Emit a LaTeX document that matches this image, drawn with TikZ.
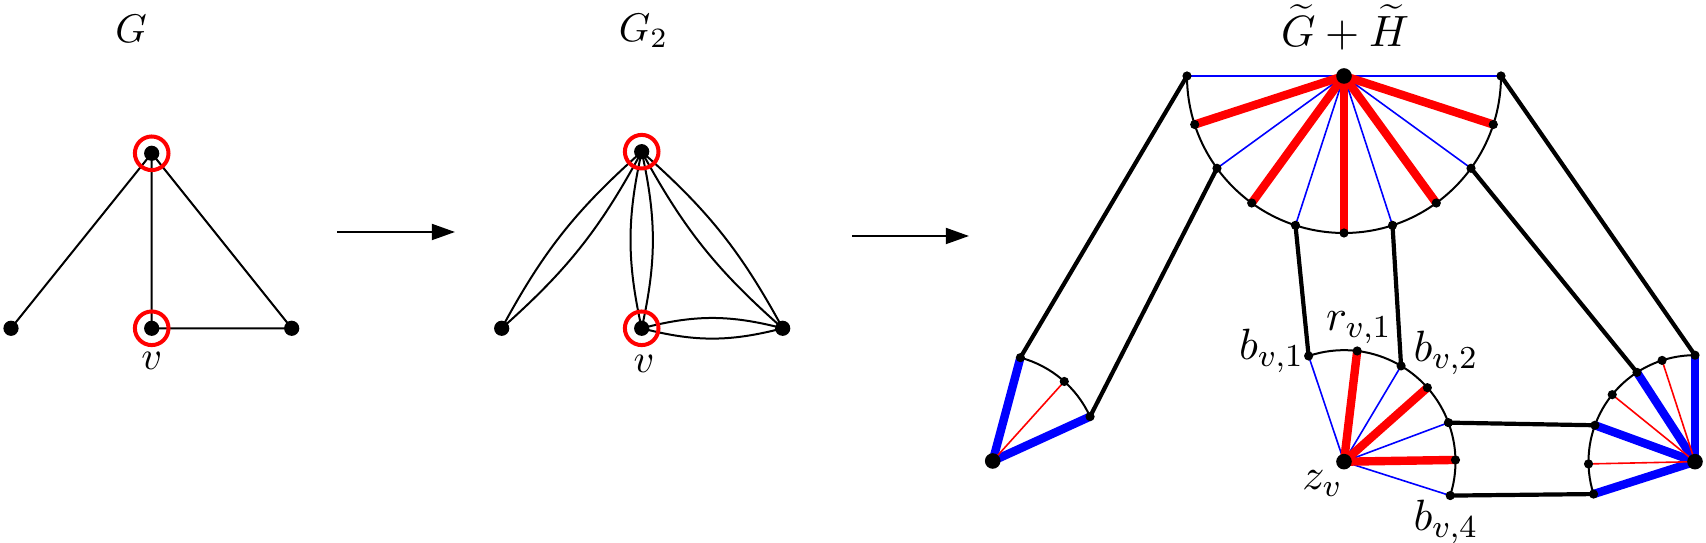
\documentclass[tikz,border=0pt]{standalone}
\usetikzlibrary{arrows.meta,calc}
\begin{document}
\begin{tikzpicture}[x=0.25pt,y=-0.25pt,
  gdot/.style={circle,fill=black,inner sep=0pt,minimum size=3.8pt},
  sdot/.style={circle,fill=black,inner sep=0pt,minimum size=2.3pt},
  hubdot/.style={circle,fill=black,inner sep=0pt,minimum size=3.9pt},
  ring/.style={circle,draw=red,line width=1pt,inner sep=0pt,minimum size=8.4pt},
  gedge/.style={line width=0.5pt},
  conn/.style={line width=1.05pt},
  arcl/.style={line width=0.5pt},
  thinb/.style={blue,line width=0.4pt},
  thinr/.style={red,line width=0.4pt},
  thickr/.style={red,line width=2.1pt},
  thickb/.style={blue,line width=2.1pt},
  lab/.style={anchor=base,inner sep=0pt},
  slab/.style={anchor=base,inner sep=0pt,font=\fontsize{11}{13}\selectfont},
  arr/.style={line width=0.5pt,-{Triangle[length=5.8pt,width=4pt]}}
]
\useasboundingbox (0,0) rectangle (1706,543);

% ---------- G ----------
\coordinate (T) at (151.7,153.3);
\coordinate (V) at (151.7,328.3);
\coordinate (L) at (11,328.3);
\coordinate (R) at (291.7,328.3);
\draw[gedge] (L) -- (T) (T) -- (V) (T) -- (R) (V) -- (R);
\foreach \n in {L,T,V,R} \node[gdot] (d\n) at (\n) {};
\node[ring] (rT) at (T) {};
\node[ring] (rV) at (V) {};
\node[lab] (labG) at (131,43) {$G$};
\node[lab] (labv) at (151.7,370) {$v$};

% ---------- arrows ----------
\coordinate (a1s) at (337,232);
\coordinate (a1e) at (455,232);
\coordinate (a2s) at (852,236);
\coordinate (a2e) at (969,236);
\draw[arr] (a1s) -- (a1e);
\draw[arr] (a2s) -- (a2e);

% ---------- G_2 ----------
\coordinate (T2) at (641.7,151.7);
\coordinate (V2) at (641.7,328.3);
\coordinate (L2) at (501.7,328.3);
\coordinate (R2) at (782.7,328.3);
\draw[gedge] (L2) to[bend left=10] (T2) (L2) to[bend right=10] (T2);
\draw[gedge] (T2) to[bend left=12.5] (V2) (T2) to[bend right=12.5] (V2);
\draw[gedge] (T2) to[bend left=10] (R2) (T2) to[bend right=10] (R2);
\draw[gedge] (V2) to[bend left=14.5] (R2) (V2) to[bend right=14.5] (R2);
\foreach \n in {L2,T2,V2,R2} \node[gdot] (d\n) at (\n) {};
\node[ring] (rT2) at (T2) {};
\node[ring] (rV2) at (V2) {};
\node[lab] (labG2) at (643.5,41.7) {$G_2$};
\node[lab] (labv2) at (644,373) {$v$};

% ---------- G~ + H~ ----------
\coordinate (H) at (1344,76);
\foreach \k in {0,...,10} \coordinate (P\k) at ($(H)+({180-18*\k}:157)$);
\draw[arcl] (P0) arc[start angle=180,end angle=0,radius=157];

\coordinate (A) at (992.7,461);
\coordinate (Q0) at ($(A)+(-75:107)$);
\coordinate (Q1) at ($(A)+(-48:107)$);
\coordinate (Q2) at ($(A)+(-24.5:107)$);
\draw[arcl] (Q0) arc[start angle=-75,end angle=-24.5,radius=107];

\coordinate (Z) at (1344,461.7);
\coordinate (B1) at ($(Z)+(-108.5:111.5)$);
\coordinate (R1) at ($(Z)+(-83.2:111.5)$);
\coordinate (B2) at ($(Z)+(-59.2:111.5)$);
\coordinate (R2x) at ($(Z)+(-41.6:111.5)$);
\coordinate (B3) at ($(Z)+(-20.5:111.5)$);
\coordinate (R3) at ($(Z)+(-0.9:111.5)$);
\coordinate (B4) at ($(Z)+(17.7:111.5)$);
\draw[arcl] (B1) arc[start angle=-108.5,end angle=17.7,radius=111.5];

\coordinate (W) at (1695,461.7);
\coordinate (S0) at ($(W)+(-90:106.5)$);
\coordinate (S1) at ($(W)+(-108:106.5)$);
\coordinate (S2) at ($(W)+(-123:106.5)$);
\coordinate (S3) at ($(W)+(-141:106.5)$);
\coordinate (S4) at ($(W)+(-160:106.5)$);
\coordinate (S5) at ($(W)+(-181.2:106.5)$);
\coordinate (S6) at ($(W)+(-197.7:106.5)$);
\draw[arcl] (S0) arc[start angle=-90,end angle=-197.7,radius=106.5];

% connectors between gadgets
\draw[conn] (P0) -- (Q0);
\draw[conn] (P2) -- (Q2);
\draw[conn] (P4) -- (B1);
\draw[conn] (P6) -- (B2);
\draw[conn] (P8) -- (S2);
\draw[conn] (P10) -- (S0);
\draw[conn] (B3) -- (S4);
\draw[conn] (B4) -- (S6);

% spokes
\foreach \k in {0,2,...,10} \draw[thinb] (H) -- (P\k);
\foreach \k in {1,3,...,9} \draw[thickr] (H) -- (P\k);
\draw[thickb] (A) -- (Q0);
\draw[thickb] (A) -- (Q2);
\draw[thinr] (A) -- (Q1);
\foreach \n in {B1,B2,B3,B4} \draw[thinb] (Z) -- (\n);
\foreach \n in {R1,R2x,R3} \draw[thickr] (Z) -- (\n);
\foreach \n in {S0,S2,S4,S6} \draw[thickb] (W) -- (\n);
\foreach \n in {S1,S3,S5} \draw[thinr] (W) -- (\n);

% dots
\foreach \k in {0,...,10} \node[sdot] (dP\k) at (P\k) {};
\foreach \n in {Q0,Q1,Q2,B1,R1,B2,R2x,B3,R3,B4,S0,S1,S2,S3,S4,S5,S6} \node[sdot] (d\n) at (\n) {};
\foreach \n in {H,A,Z,W} \node[hubdot] (d\n) at (\n) {};

% labels
\node[lab,font=\fontsize{10.5}{12}\selectfont] (title) at (1345,46.5) {$\widetilde{G}+\widetilde{H}$};
\node[slab] (lb1) at (1271.7,360) {$b_{v,1}$};
\node[slab] (lr1) at (1359,330.7) {$r_{v,1}$};
\node[slab] (lb2) at (1446,362) {$b_{v,2}$};
\node[slab] (lz) at (1322.5,490) {$z_v$};
\node[slab] (lb4) at (1446,531) {$b_{v,4}$};
\end{tikzpicture}
\end{document}
